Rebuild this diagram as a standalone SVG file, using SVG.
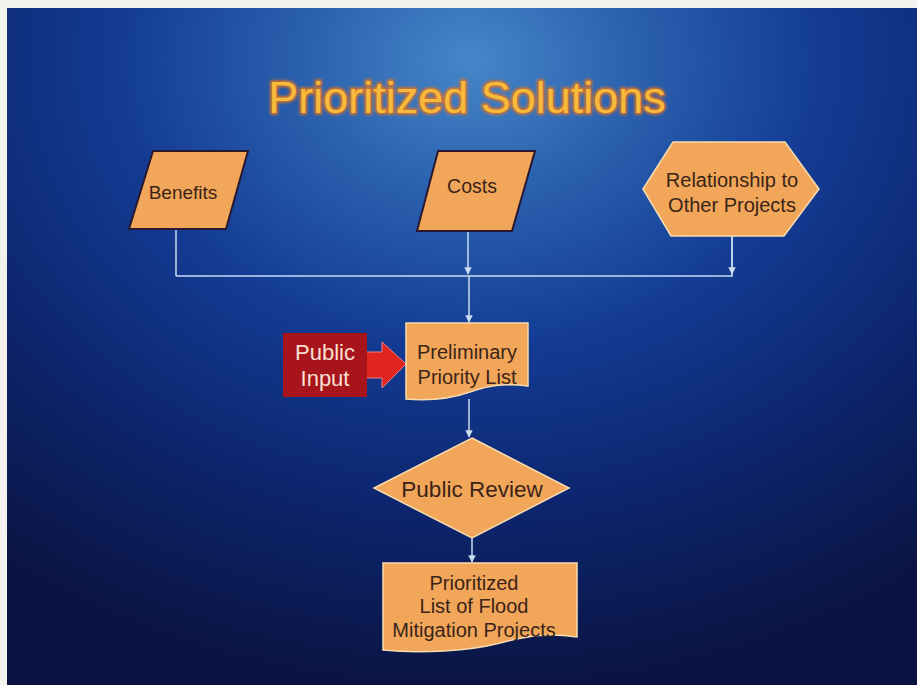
<svg xmlns="http://www.w3.org/2000/svg" width="917" height="685" viewBox="0 0 917 685">
<defs>
<radialGradient id="bg" cx="470" cy="60" r="700" gradientUnits="userSpaceOnUse" gradientTransform="translate(470 60) scale(1.1 0.9) translate(-470 -60)">
<stop offset="0" stop-color="#4686c8"/>
<stop offset="0.22" stop-color="#2a60ae"/>
<stop offset="0.45" stop-color="#143c94"/>
<stop offset="0.7" stop-color="#0d2670"/>
<stop offset="1" stop-color="#0a1442"/>
</radialGradient>
<marker id="ah" viewBox="0 0 10 10" refX="9" refY="5" markerWidth="5" markerHeight="5" orient="auto">
<path d="M0,0 L10,5 L0,10 z" fill="#c8dcf0"/>
</marker>
<filter id="glow" x="-10%" y="-30%" width="120%" height="160%">
<feGaussianBlur stdDeviation="1.5"/>
</filter>
</defs>
<style>
.node{fill:#f2a65a}
.dark{stroke:#2a1830;stroke-width:2}
.light{stroke:#f6dcb0;stroke-width:1.5}
.lbl{font-family:"Liberation Sans",Arial,sans-serif;fill:#3a2418;text-anchor:middle}
.conn{stroke:#c8dcf0;stroke-width:1.5;fill:none}
</style>
<rect x="0" y="0" width="917" height="685" fill="#f4f2ee"/>
<rect x="7" y="8" width="910" height="677" fill="url(#bg)"/>
<g id="title">
<text x="467" y="113" font-family="Liberation Sans,Arial,sans-serif" font-size="45" text-anchor="middle" fill="#e8741c" stroke="#e8741c" stroke-width="3" filter="url(#glow)">Prioritized Solutions</text>
<text x="467" y="113" font-family="Liberation Sans,Arial,sans-serif" font-size="45" text-anchor="middle" fill="#f6ba3c">Prioritized Solutions</text>
</g>
<g id="connectors">
<path class="conn" d="M176,229 V276"/>
<path class="conn" d="M732,236 V276"/>
<path class="conn" d="M176,276 H733"/>
<path class="conn" d="M468,231 V274" marker-end="url(#ah)"/>
<path class="conn" d="M732,236 V274" marker-end="url(#ah)"/>
<path class="conn" d="M469,276 V322" marker-end="url(#ah)"/>
<path class="conn" d="M469,399 V437" marker-end="url(#ah)"/>
<path class="conn" d="M472,538 V562" marker-end="url(#ah)"/>
<path d="M366,352 H382 V342 L406,364 L382,388 V378 H366 z" fill="#e0241e" stroke="#f08080" stroke-width="1"/>
</g>
<g id="benefits">
<polygon class="node dark" points="153,151 248,151 226,229 129,229"/>
<text class="lbl" x="183" y="199" font-size="19">Benefits</text>
</g>
<g id="costs">
<polygon class="node dark" points="438,151 535,151 512,231 417,231"/>
<text class="lbl" x="472" y="193" font-size="19.5">Costs</text>
</g>
<g id="relationship">
<polygon class="node light" points="643,189 673,142 785,142 819,189 784,236 671,236"/>
<text class="lbl" x="732" y="187" font-size="20">Relationship to</text>
<text class="lbl" x="732" y="212" font-size="20">Other Projects</text>
</g>
<g id="public-input">
<rect x="283" y="333" width="84" height="64" fill="#a8141c"/>
<text x="325" y="360" font-family="Liberation Sans,Arial,sans-serif" font-size="22" text-anchor="middle" fill="#f8e0d0">Public</text>
<text x="325" y="386" font-family="Liberation Sans,Arial,sans-serif" font-size="22" text-anchor="middle" fill="#f8e0d0">Input</text>
</g>
<g id="preliminary">
<path class="node light" d="M406,323 H528 V386 C505,383 490,385 470,392 C450,399 430,401 406,399 z"/>
<text class="lbl" x="467" y="359" font-size="20">Preliminary</text>
<text class="lbl" x="467" y="384" font-size="20">Priority List</text>
</g>
<g id="public-review">
<polygon class="node light" points="472,438 569,488 472,538 374,488"/>
<text class="lbl" x="472" y="497" font-size="22.5">Public Review</text>
</g>
<g id="final">
<path class="node light" d="M383,563 H577 V637 C550,633 530,635 500,643 C470,651 420,654 383,650 z"/>
<text class="lbl" x="474" y="590" font-size="20">Prioritized</text>
<text class="lbl" x="474" y="613" font-size="20">List of Flood</text>
<text class="lbl" x="474" y="637" font-size="20">Mitigation Projects</text>
</g>
</svg>
